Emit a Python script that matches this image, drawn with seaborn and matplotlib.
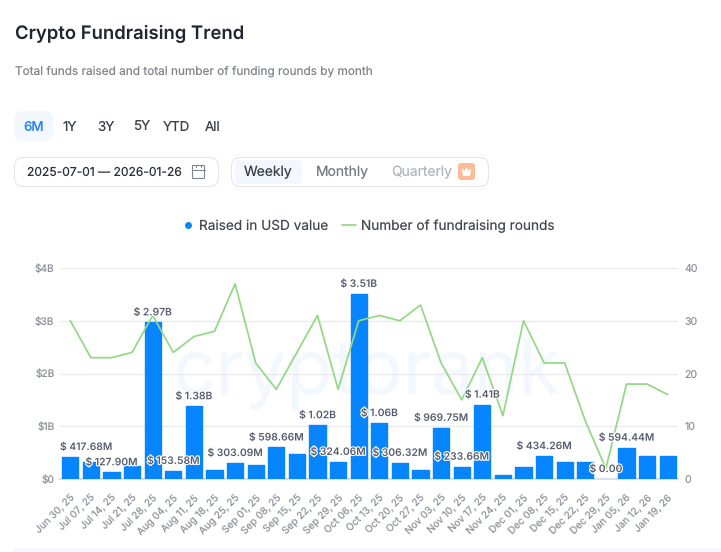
import matplotlib
matplotlib.use('Agg')
import matplotlib.pyplot as plt
import matplotlib.patheffects as pe
from matplotlib.lines import Line2D
from matplotlib.patches import FancyBboxPatch, Rectangle, Polygon
import seaborn as sns
import pandas as pd

weeks = ['Jun 30, 25', 'Jul 07, 25', 'Jul 14, 25', 'Jul 21, 25', 'Jul 28, 25', 'Aug 04, 25',
         'Aug 11, 25', 'Aug 18, 25', 'Aug 25, 25', 'Sep 01, 25', 'Sep 08, 25', 'Sep 15, 25',
         'Sep 22, 25', 'Sep 29, 25', 'Oct 06, 25', 'Oct 13, 25', 'Oct 20, 25', 'Oct 27, 25',
         'Nov 03, 25', 'Nov 10, 25', 'Nov 17, 25', 'Nov 24, 25', 'Dec 01, 25', 'Dec 08, 25',
         'Dec 15, 25', 'Dec 22, 25', 'Dec 29, 25', 'Jan 05, 26', 'Jan 12, 26', 'Jan 19, 26']
# raised, in $ billions (unlabelled bars are estimates)
raised = [0.41768, 0.32, 0.1279, 0.25, 2.97, 0.15358, 1.38, 0.18, 0.30309, 0.26, 0.59866, 0.48,
          1.02, 0.32406, 3.51, 1.06, 0.30632, 0.17, 0.96975, 0.23366, 1.41, 0.07, 0.23, 0.43426,
          0.32, 0.32, 0.0, 0.59444, 0.43, 0.43]
rounds = [30, 23, 23, 24, 31, 24, 27, 28, 37, 22, 17, 24, 31, 17, 30, 31, 30, 33, 22, 15, 23, 12,
          30, 22, 22, 11, 2, 18, 18, 16]
bar_labels = {'Jun 30, 25': '$ 417.68M', 'Jul 14, 25': '$ 127.90M', 'Jul 28, 25': '$ 2.97B',
              'Aug 04, 25': '$ 153.58M', 'Aug 11, 25': '$ 1.38B', 'Aug 25, 25': '$ 303.09M',
              'Sep 08, 25': '$ 598.66M', 'Sep 22, 25': '$ 1.02B', 'Sep 29, 25': '$ 324.06M',
              'Oct 06, 25': '$ 3.51B', 'Oct 13, 25': '$ 1.06B', 'Oct 20, 25': '$ 306.32M',
              'Nov 03, 25': '$ 969.75M', 'Nov 10, 25': '$ 233.66M', 'Nov 17, 25': '$ 1.41B',
              'Dec 08, 25': '$ 434.26M', 'Dec 29, 25': '$ 0.00', 'Jan 05, 26': '$ 594.44M'}
left_ticks = ['$0', '$1B', '$2B', '$3B', '$4B']
right_ticks = [0, 10, 20, 30, 40]

BLUE = '#0785fe'
GREEN = '#93d885'
GREY = '#8f939b'
W, H = 721, 552

sns.set_theme(style='white')
plt.rcParams['font.family'] = ['Inter', 'DejaVu Sans']
plt.rcParams['text.hinting'] = 'no_hinting'
plt.rcParams['text.hinting_factor'] = 1

df = pd.DataFrame({'week': weeks, 'raised': raised, 'rounds': rounds})

fig = plt.figure(figsize=(W / 100, H / 100), dpi=100)
ax = fig.add_axes([60 / W, 1 - 479 / H, 618 / W, 211 / H])

# watermark goes behind the grid and the bars
ax.text(366 / W, 1 - 393 / H, 'cryptorank', fontsize=54.5, color='#f3f7fe', ha='center', va='baseline',
        transform=fig.transFigure, zorder=0.5)

sns.barplot(data=df, x='week', y='raised', color=BLUE, saturation=1, width=0.78, ax=ax, zorder=3)
for p in ax.patches:
    p.set_edgecolor(BLUE)
    p.set_linewidth(1 if p.get_height() > 0 else 0)
    p.set_joinstyle('round')

ax.set_xlim(-0.5, 29.5)
ax.set_ylim(0, 4)
ax.set_yticks(range(5))
ax.set_yticklabels(left_ticks)
ax.set_xlabel('')
ax.set_ylabel('')
ax.grid(axis='y', color='#e9ebef', linewidth=1)
ax.set_axisbelow(True)
ax.tick_params(axis='y', length=0, labelsize=7.3, labelcolor=GREY, pad=4)
ax.tick_params(axis='x', length=0, labelsize=7.2, labelcolor=GREY, pad=10)
plt.setp(ax.get_xticklabels(), rotation=45, ha='right', rotation_mode='anchor')
sns.despine(ax=ax, left=True, right=True, top=True)
ax.spines['bottom'].set_color('#d5dbe8')

ax2 = ax.twinx()
sns.lineplot(data=df, x='week', y='rounds', color=GREEN, linewidth=1.25, ax=ax2, zorder=4)
ax2.set_ylim(0, 40)
ax2.set_yticks(right_ticks)
ax2.set_ylabel('')
ax2.grid(False)
ax2.tick_params(axis='y', length=0, labelsize=7.6, labelcolor=GREY, pad=4.5)
sns.despine(ax=ax2, left=True, right=True, top=True, bottom=True)

for i, w in enumerate(weeks):
    if w in bar_labels:
        # first label is pushed inside the plot area, like the original
        x_off, ha = (-7.4, 'left') if i == 0 else (0, 'center')
        ax2.annotate(bar_labels[w], (i, raised[i] * 10), xytext=(x_off, 3.5), textcoords='offset points',
                     ha=ha, va='bottom', fontsize=7.4, fontweight='semibold', color='#565b6e',
                     zorder=6, path_effects=[pe.withStroke(linewidth=1.6, foreground='white')])

# page furniture, in pixel coordinates
ui = fig.add_axes([0, 0, 1, 1], facecolor='none', zorder=10)
ui.set_xlim(0, W)
ui.set_ylim(H, 0)
ui.axis('off')


def box(x, y, w, h, r, fc='white', ec='none', lw=0.75, z=1):
    ui.add_patch(FancyBboxPatch((x + r, y + r), w - 2 * r, h - 2 * r, boxstyle=f'round,pad={r}',
                                fc=fc, ec=ec, lw=lw, zorder=z))


ui.text(15, 34, 'Crypto Fundraising Trend', fontsize=13.3, fontweight='semibold', color='#22262e', va='center')
ui.text(15, 71.5, 'Total funds raised and total number of funding rounds by month', fontsize=8.5,
        color='#81858c', va='center')

box(14, 111, 39, 30, 8, fc='#f3f8fe')
ui.text(33.5, 131, '6M', fontsize=9.6, fontweight='medium', color='#2b86f6', ha='center', va='baseline')
for label, x in zip(['1Y', '3Y', '5Y', 'YTD', 'All'], [70, 106, 142, 177, 213]):
    ui.text(x, 131, label, fontsize=9.6, color='#3c4048', ha='center', va='baseline')

box(14.5, 157.5, 204, 29, 9, ec='#e3e5e8')
ui.text(27, 176, '2025-07-01 — 2026-01-26', fontsize=8.7, color='#2b2f36', va='baseline')
ui.add_patch(FancyBboxPatch((193, 166), 11, 12, boxstyle='round,pad=0.5', fc='none', ec='#80848c', lw=0.8, zorder=2))
ui.plot([192.5, 204.5], [170, 170], color='#80848c', lw=0.8, zorder=2)
ui.plot([196, 196], [165, 167], color='#80848c', lw=0.8, zorder=2)
ui.plot([201, 201], [165, 167], color='#80848c', lw=0.8, zorder=2)

box(231.5, 157.5, 257, 29, 9, ec='#e3e5e8')
box(235, 160, 67, 24, 5, fc='#f3f8fe', z=2)
ui.text(268.5, 176, 'Weekly', fontsize=10, color='#3c4048', ha='center', va='baseline', zorder=3)
ui.text(342, 176, 'Monthly', fontsize=10, color='#777b82', ha='center', va='baseline', zorder=3)
ui.text(421.5, 176, 'Quarterly', fontsize=10, color='#b3b6bb', ha='center', va='baseline', zorder=3)
box(458, 163, 17, 17, 3, fc='#fdbb98', z=2)
ui.add_patch(Polygon([(462, 168), (464.5, 171), (466.5, 167), (468.5, 171), (471, 168), (470, 176), (463, 176)],
                     fc='white', ec='none', zorder=3))

legend_handles = [Line2D([], [], marker='o', color='none', markerfacecolor=BLUE, markeredgecolor='none', markersize=5),
                  Line2D([], [], color=GREEN, linewidth=1.25)]
fig.legend(legend_handles, ['Raised in USD value', 'Number of fundraising rounds'], loc='center',
           bbox_to_anchor=(367.5 / W, 1 - 226 / H), ncol=2, frameon=False, fontsize=9.8, handlelength=1.0,
           handletextpad=0.35, columnspacing=1.0, labelcolor='#44484f')

ui.add_patch(Rectangle((14, 548), W - 14, 4, fc='#f5f8fd', ec='none'))

fig.savefig('out.png', dpi=100, facecolor='white')
